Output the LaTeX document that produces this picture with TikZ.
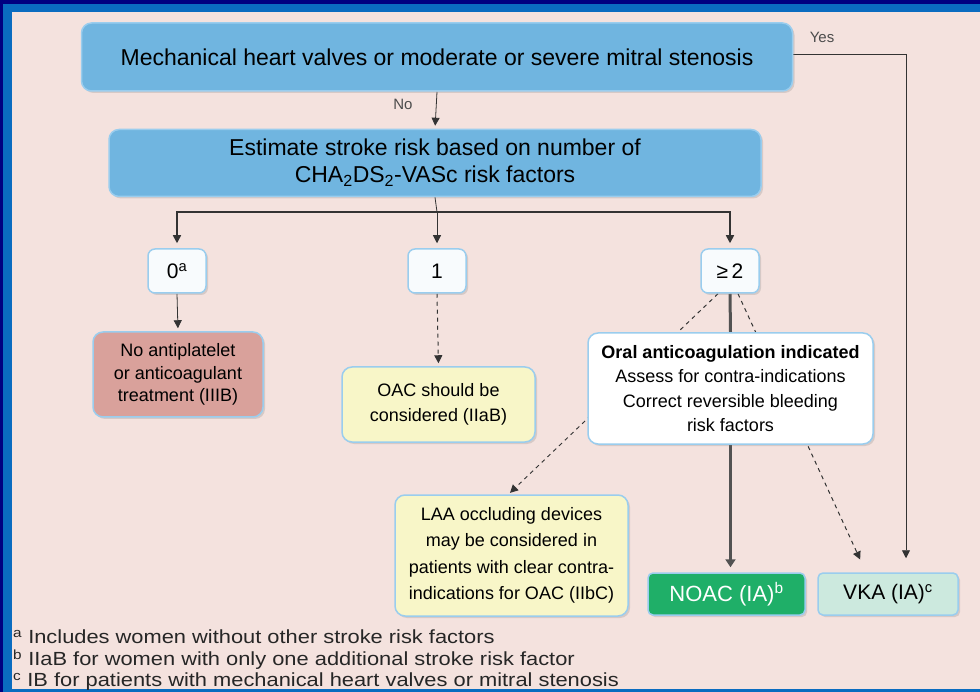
\documentclass[tikz,border=0pt]{standalone}
\usepackage{fontspec}
\setmainfont{Liberation Sans}
\newfontfamily\footfont{Liberation Sans}[FakeStretch=1.15]
\usetikzlibrary{arrows.meta,shadows,calc,backgrounds}
\definecolor{navy}{HTML}{000080}
\definecolor{band}{HTML}{0A6CC0}
\definecolor{panel}{HTML}{F4E2DE}
\definecolor{boxblue}{HTML}{70B5E0}
\definecolor{boxedge}{HTML}{9ACDEE}
\definecolor{redfill}{HTML}{D9A19B}
\definecolor{yelfill}{HTML}{F8F6C8}
\definecolor{grnfill}{HTML}{1FAF68}
\definecolor{vkafill}{HTML}{CCE9DE}
\definecolor{whitefill}{HTML}{F8FBFD}
\definecolor{linecol}{HTML}{333333}
\tikzset{
  basebox/.style={draw=boxedge, line width=1.5pt, rounded corners=10pt, align=center, inner sep=0pt,
    drop shadow={shadow xshift=2pt, shadow yshift=-2pt, opacity=0.25}},
  bluebox/.style={basebox, fill=boxblue, font=\fontsize{23}{27}\selectfont, text=black},
  numbox/.style={basebox, fill=whitefill, rounded corners=7pt, minimum width=58pt, minimum height=44pt, font=\fontsize{21}{24}\selectfont},
  smallbox/.style={basebox, font=\fontsize{18}{23}\selectfont},
  conn/.style={draw=linecol, line width=0.8pt},
  arr/.style={conn, -{Triangle[length=8pt,width=8pt]}},
  dasharr/.style={draw=linecol, line width=1pt, dash pattern=on 4pt off 4pt, -{Triangle[length=8pt,width=8pt]}},
  thickarr/.style={draw=linecol!85!white, line width=3pt, -{Triangle[length=8pt,width=10pt]}},
  lbl/.style={font=\fontsize{15}{17}\selectfont, inner sep=0pt, text=black!70},
  foot/.style={font=\footfont\fontsize{19}{21}\selectfont, anchor=west, inner sep=0pt, text=black!85}
}
\begin{document}
\begin{tikzpicture}[x=1pt,y=-1pt]
\useasboundingbox (0,0) rectangle (980,692);
% nodes
\node[bluebox, minimum width=711pt, minimum height=68pt] (top) at (437,57)
  {Mechanical heart valves or moderate or severe mitral stenosis};
\node[bluebox, minimum width=652pt, minimum height=67pt, font=\fontsize{23}{27}\selectfont] (est) at (435,163)
  {Estimate stroke risk based on number of\\CHA\textsubscript{2}DS\textsubscript{2}-VASc risk factors};
\node[numbox] (z0) at (177,271) {0\textsuperscript{a}};
\node[numbox] (z1) at (437,271) {1};
\node[numbox] (z2) at (730,271) {≥\,2};
\node[smallbox, fill=redfill, minimum width=170pt, minimum height=85pt, font=\fontsize{18}{22.5}\selectfont] (red) at (178,374.5)
  {No antiplatelet\\or anticoagulant\\treatment (IIIB)};
\node[smallbox, fill=yelfill, minimum width=193pt, minimum height=75pt, font=\fontsize{18}{25}\selectfont] (oac) at (438.5,404.5)
  {OAC should be\\considered (IIaB)};
\node[smallbox, fill=white, minimum width=285pt, minimum height=111pt, font=\fontsize{18}{24.5}\selectfont] (oral) at (730.5,388.5)
  {\textbf{Oral anticoagulation indicated}\\Assess for contra-indications\\Correct reversible bleeding\\risk factors};
\node[smallbox, fill=yelfill, minimum width=233pt, minimum height=121pt, font=\fontsize{18}{26.5}\selectfont] (laa) at (511.5,555.5)
  {LAA occluding devices\\may be considered in\\patients with clear contra-\\indications for OAC (IIbC)};
\node[smallbox, fill=grnfill, rounded corners=5pt, minimum width=157pt, minimum height=42pt, text=white, font=\fontsize{22}{24}\selectfont] (noac) at (726.5,594)
  {NOAC (IA)\textsuperscript{b}};
\node[smallbox, fill=vkafill, rounded corners=5pt, minimum width=140pt, minimum height=42pt, font=\fontsize{21}{24}\selectfont] (vka) at (888,594)
  {VKA (IA)\textsuperscript{c}};
% labels
\node[lbl] (nolbl) at (403,104) {No};
\node[lbl] (yeslbl) at (822,37) {Yes};
% footnotes
\node[foot] (f1) at (13,637) {\textsuperscript{a} Includes women without other stroke risk factors};
\node[foot] (f2) at (13,660) {\textsuperscript{b} IIaB for women with only one additional stroke risk factor};
\node[foot] (f3) at (13,682) {\textsuperscript{c} IB for patients with mechanical heart valves or mitral stenosis};
% connectors and frame behind
\begin{scope}[on background layer]
  \fill[navy] (0,0) rectangle (980,692);
  \fill[band] (3,4) rectangle (980,692);
  \fill[panel] (11.5,12.5) rectangle (990,688.5);
  \coordinate (bj) at (437,212);
  \coordinate (yc) at (906,54);
  \coordinate (l2) at ($(z2.south)+(-12,0)$);
  \coordinate (r2) at ($(z2.south)+(8,0)$);
  \coordinate (vkain) at ($(vka.north)+(-22,0)$);
  \coordinate (laain) at ($(laa.north)+(-3,0)$);
  \draw[arr, shorten >=3pt] (top.south) -- (est.north);
  \draw[conn] (top.east |- yc) -- (yc);
  \draw[arr, shorten >=14pt] (yc) -- (yc |- vka.north);
  \draw[conn] (est.south) -- (bj);
  \draw[arr, line width=1.6pt, shorten >=5pt] (bj) -| (z0.north);
  \draw[arr, line width=1.6pt, shorten >=5pt] (bj) -| (z2.north);
  \draw[arr, shorten >=5pt] (bj) -- (z1.north);
  \draw[arr, shorten >=3pt] (z0.south) -- (red.north);
  \draw[dasharr, shorten >=3pt] (z1.south) -- (oac.north);
  \draw[thickarr, -] (z2.south) -- (oral.north);
  \draw[thickarr, shorten >=5pt] (oral.south) -- (oral.south |- noac.north);
  \draw[dasharr, shorten >=2pt] (l2) -- (laain);
  \draw[dasharr, shorten >=14pt] (r2) -- (vkain);
\end{scope}
\end{tikzpicture}
\end{document}
